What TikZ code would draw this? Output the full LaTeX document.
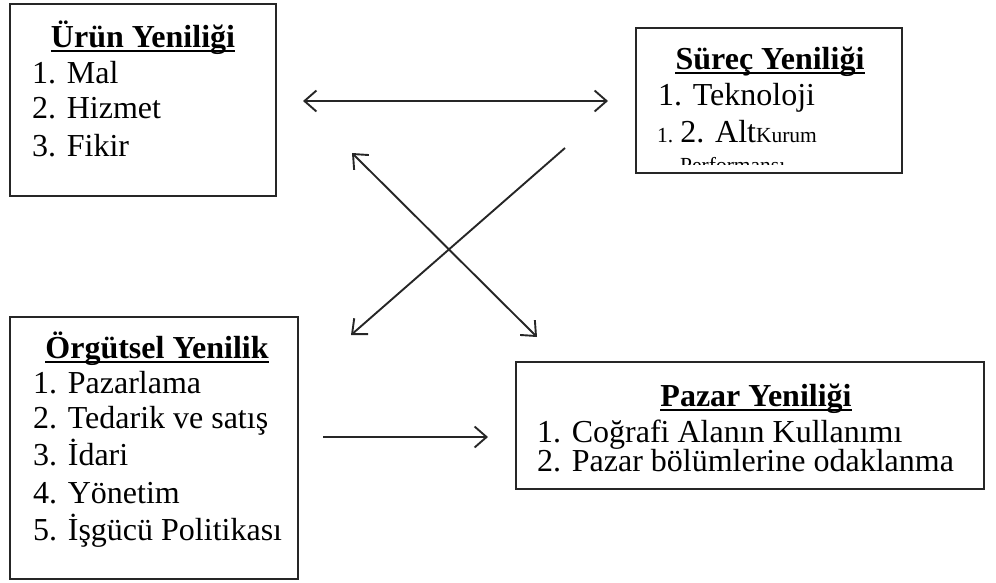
\documentclass[tikz,border=0pt]{standalone}
\usepackage{fontspec}
\setmainfont{Liberation Serif}
\usetikzlibrary{arrows.meta}

\begin{document}
\begin{tikzpicture}[x=1pt,y=-1pt,
  box/.style={draw=black!85, line width=2pt},
  title/.style={inner sep=0pt, anchor=base, font=\fontsize{32}{37}\selectfont\bfseries},
  item/.style={inner sep=0pt, anchor=base west, font=\fontsize{32}{37}\selectfont},
  smalltxt/.style={font=\fontsize{21.5}{25}\selectfont},
  uline/.style={line width=2.2pt, black},
  link/.style={line width=1.9pt, black!85},
  >={Straight Barb[length=12pt,width=21pt]}
]
\useasboundingbox (0,0) rectangle (996,582);

% frames
\draw[box] (10,4) rectangle (276,196);
\draw[box] (636,28) rectangle (902,173);
\draw[box] (10,317) rectangle (298,579);
\draw[box] (516,362) rectangle (984,489);

% Ürün Yeniliği
\node[title] (urunT) at (143,47) {Ürün Yeniliği};
\draw[uline] ([yshift=-4pt]urunT.base west) -- ([yshift=-4pt]urunT.base east);
\node[item] (urun1) at (32,83)  {1. Mal};
\node[item] (urun2) at (32,118) {2. Hizmet};
\node[item] (urun3) at (32,156) {3. Fikir};

% Süreç Yeniliği
\node[title] (surecT) at (770,69) {Süreç Yeniliği};
\draw[uline] ([yshift=-4pt]surecT.base west) -- ([yshift=-4pt]surecT.base east);
\node[item] (surec1) at (658,105) {1. Teknoloji};
\node[item] (surec2) at (657,142) {{\fontsize{21.5}{25}\selectfont 1. }2. Alt{\fontsize{21.5}{25}\selectfont Kurum}};
\begin{scope}
  \clip (637,29) rectangle (901,164);
  \node[item, smalltxt] (surec3) at (680,172) {Performansı};
\end{scope}

% Örgütsel Yenilik
\node[title] (orgT) at (157,358) {Örgütsel Yenilik};
\draw[uline] ([yshift=-4pt]orgT.base west) -- ([yshift=-4pt]orgT.base east);
\node[item] (org1) at (33,393) {1. Pazarlama};
\node[item] (org2) at (33,428) {2. Tedarik ve satış};
\node[item] (org3) at (33,465) {3. İdari};
\node[item] (org4) at (33,503) {4. Yönetim};
\node[item] (org5) at (33,540) {5. İşgücü Politikası};

% Pazar Yeniliği
\node[title] (pazT) at (756,406) {Pazar Yeniliği};
\draw[uline] ([yshift=-4pt]pazT.base west) -- ([yshift=-4pt]pazT.base east);
\node[item] (paz1) at (537,442) {1. Coğrafi Alanın Kullanımı};
\node[item] (paz2) at (537,471) {2. Pazar bölümlerine odaklanma};

% connector ends
\coordinate (hA) at (303,101);
\coordinate (hB) at (608,101);
\coordinate (dA) at (352,153);
\coordinate (dB) at (537,337);
\coordinate (eA) at (565,148);
\coordinate (eB) at (351,335);
\coordinate (gA) at (323,437);
\coordinate (gB) at (488,437);

\draw[link,<->] (hA) -- (hB);
\draw[link,<->] (dA) -- (dB);
\draw[link,->] (eA) -- (eB);
\draw[link,->] (gA) -- (gB);
\end{tikzpicture}
\end{document}
